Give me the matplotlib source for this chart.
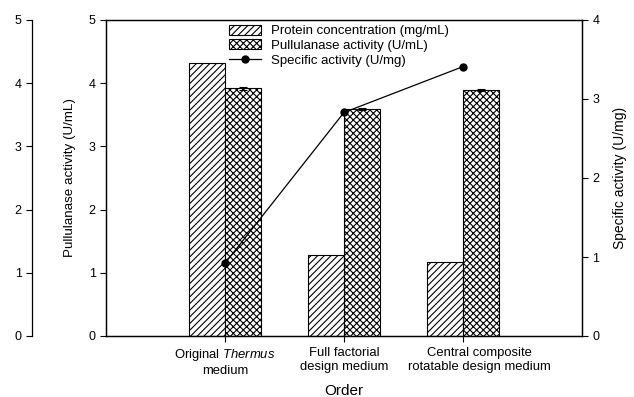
import numpy as np
import matplotlib
matplotlib.use("Agg")
from matplotlib import pyplot as plt
from matplotlib.transforms import ScaledTranslation

plt.rcParams['font.family'] = ['Liberation Sans', 'DejaVu Sans']
plt.rcParams['mathtext.fontset'] = 'custom'
plt.rcParams['mathtext.it'] = 'Liberation Sans:italic'
plt.rcParams['mathtext.rm'] = 'Liberation Sans'
plt.rcParams['hatch.linewidth'] = 0.8

# data
categories = ["Original $\\it{Thermus}$\nmedium",
              "Full factorial\ndesign medium",
              "Central composite\nrotatable design medium"]
protein = [4.32, 1.28, 1.17]        # mg/mL
pullulanase = [3.92, 3.59, 3.89]    # U/mL
pullulanase_err = [0.02, 0.02, 0.02]
specific = [0.92, 2.83, 3.41]       # U/mg

x = np.arange(1, len(categories) + 1)
w = 0.3

fig = plt.figure(figsize=(6.34, 3.97), dpi=100)
ax = fig.add_axes([106/634, 1 - 336/397, 476/634, 316/397])

ax.bar(x - w/2, protein, w, color='white', edgecolor='black', hatch='/////',
       linewidth=0.8, label='Protein concentration (mg/mL)')
ax.bar(x + w/2, pullulanase, w, color='white', edgecolor='black', hatch='xxxxx',
       linewidth=0.8, label='Pullulanase activity (U/mL)',
       yerr=pullulanase_err, capsize=3, error_kw=dict(elinewidth=0.8, capthick=0.8))
ax.set_xlim(0, 4)
ax.set_ylim(0, 5)
ax.set_xticks(x)
ax.set_xticklabels(categories, fontsize=9.4, linespacing=1.2)
ax.set_yticks(range(0, 6))
ax.tick_params(axis='both', direction='out', length=4, width=0.8, labelsize=9)
ax.tick_params(axis='x', labelsize=9.4, pad=4)
ax.set_ylabel('Pullulanase activity (U/mL)', fontsize=9.6, labelpad=9)
ax.set_xlabel('Order', fontsize=11, labelpad=5)
for s in ax.spines.values():
    s.set_linewidth(0.9)

# last category label sits a bit right of its tick in the original
lab = ax.get_xticklabels()[2]
lab.set_transform(lab.get_transform() + ScaledTranslation(0.16, 0, fig.dpi_scale_trans))

# outer duplicate left axis
ax_outer = ax.twinx()
ax_outer.set_ylim(0, 5)
ax_outer.yaxis.set_ticks_position('left')
ax_outer.yaxis.set_label_position('left')
ax_outer.spines['left'].set_position(('axes', -74/476))
ax_outer.spines['left'].set_visible(True)
ax_outer.spines['left'].set_bounds(0, 5)
for k in ['right', 'top', 'bottom']:
    ax_outer.spines[k].set_visible(False)
ax_outer.set_yticks(range(0, 6))
ax_outer.tick_params(axis='y', direction='out', length=4, width=0.8, labelsize=9)
ax_outer.spines['left'].set_linewidth(0.9)

# right axis for specific activity
ax2 = ax.twinx()
ax2.plot(x, specific, color='black', marker='o', markersize=5, linewidth=0.9,
         label='Specific activity (U/mg)')
ax2.set_ylim(0, 4)
ax2.set_yticks(range(0, 5))
ax2.tick_params(axis='y', direction='out', length=4, width=0.8, labelsize=9)
ax2.set_ylabel('Specific activity (U/mg)', fontsize=10, labelpad=10)
for s in ax2.spines.values():
    s.set_linewidth(0.9)

h1, l1 = ax.get_legend_handles_labels()
h2, l2 = ax2.get_legend_handles_labels()
ax2.legend(h1 + h2, l1 + l2, loc='upper center', bbox_to_anchor=(0.49, 1.01),
           frameon=False, fontsize=9.5, handlelength=2.4, handleheight=0.8,
           labelspacing=0.15, borderaxespad=0.2)

plt.savefig("out.png", dpi=100)
